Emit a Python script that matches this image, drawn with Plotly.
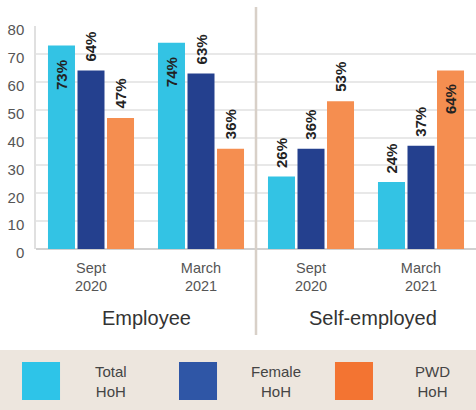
import plotly.graph_objects as go

periods = ["Sept<br>2020", "March<br>2021", "Sept<br>2020", "March<br>2021"]
groups = ["Employee", "Self-employed"]
series_names = ["Total HoH", "Female HoH", "PWD HoH"]
total_hoh = [73, 74, 26, 24]
female_hoh = [64, 63, 36, 37]
pwd_hoh = [47, 36, 53, 64]
y_ticks = [0, 10, 20, 30, 40, 50, 60, 70, 80]

series = [total_hoh, female_hoh, pwd_hoh]
bar_colors = ["#33c3e4", "#24408e", "#f58e50"]
legend_colors = ["#2ec4e8", "#2f56a6", "#f37432"]
label_inside = [[True, True, False, False], [False, False, False, False], [False, False, False, True]]

x_pos = list(range(len(periods)))
bargap = 0.195
groupgap = 0.085
slot = (1 - bargap) / 3

fig = go.Figure()
for i, (name, vals) in enumerate(zip(series_names, series)):
    fig.add_trace(go.Bar(x=x_pos, y=vals, name=name, marker=dict(color=bar_colors[i], line=dict(width=0)),
                         showlegend=False, hoverinfo="skip"))

annotations = []
for i, vals in enumerate(series):
    for j, v in enumerate(vals):
        inside = label_inside[i][j]
        annotations.append(dict(
            x=j + (i - 1) * slot, y=v, xref="x", yref="y", text=f"<b>{v}%</b>", showarrow=False,
            textangle=-90, font=dict(family="Liberation Sans, Arial", size=15, color="#222222"),
            yanchor="top" if inside else "bottom", yshift=-12 if inside else 7,
        ))

# group labels
for gi, g in enumerate(groups):
    annotations.append(dict(x=0.5 + 2 * gi + (0.06 if gi else 0), y=-0.31, xref="x", yref="paper", text=g, showarrow=False,
                            font=dict(family="Liberation Sans, Arial", size=20, color="#333333"),
                            xanchor="center", yanchor="middle"))

# custom legend
shapes = []
shapes.append(dict(type="rect", xref="paper", yref="paper", x0=-0.1, x1=1.01, y0=-0.453, y1=-0.75,
                   fillcolor="#ede6de", line=dict(width=0), layer="below"))
sq_x = [-0.0318, 0.325, 0.6795]
txt_x = [0.17, 0.545, 0.9]
for k in range(3):
    shapes.append(dict(type="rect", xref="paper", yref="paper", x0=sq_x[k], x1=sq_x[k] + 0.0864,
                       y0=-0.677, y1=-0.507, fillcolor=legend_colors[k], line=dict(width=0)))
    annotations.append(dict(x=txt_x[k], y=-0.594, xref="paper", yref="paper",
                            text=series_names[k].replace(" ", "<br>"), showarrow=False, align="center",
                            font=dict(family="Liberation Sans, Arial", size=15, color="#444444"),
                            xanchor="center", yanchor="middle"))

# separator
shapes.append(dict(type="line", xref="x", yref="paper", x0=1.5, x1=1.5, y0=-0.386, y1=1.085,
                   line=dict(color="#d8d0c8", width=2.5)))

fig.update_layout(
    width=476, height=410,
    margin=dict(l=36, r=0, t=26, b=161),
    barmode="group", bargap=bargap, bargroupgap=groupgap,
    plot_bgcolor="white", paper_bgcolor="white",
    annotations=annotations, shapes=shapes,
    xaxis=dict(tickmode="array", tickvals=x_pos, ticktext=periods, range=[-0.5, 3.5],
               showgrid=False, zeroline=False, showline=False, ticks="", ticklabelstandoff=8,
               tickfont=dict(family="Liberation Sans, Arial", size=14.5, color="#555555")),
    yaxis=dict(range=[0, 80], tickvals=y_ticks, showgrid=True, gridcolor="#e8e8e8", gridwidth=1.5,
               zeroline=True, zerolinecolor="#d0d0d0", zerolinewidth=1.5,
               showline=True, linecolor="#e0e0e0", linewidth=1.5, ticks="", ticklabelshift=4,
               ticklabelstandoff=7,
               tickfont=dict(family="Liberation Sans, Arial", size=15, color="#555555")),
)

fig.write_html("out.html", config={"displayModeBar": False},
               post_script="document.body.style.margin='0';")
